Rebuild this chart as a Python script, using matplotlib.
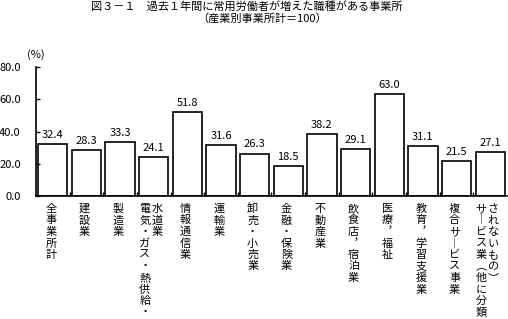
import numpy as np
import matplotlib
matplotlib.use('Agg')
import matplotlib.pyplot as plt
from matplotlib.transforms import blended_transform_factory

plt.rcParams['font.family'] = ['Noto Sans CJK JP', 'DejaVu Sans']

# data
labels = [
    ['全事業所計'],
    ['建設業'],
    ['製造業'],
    ['電気・ガス・熱供給・', '水道業'],
    ['情報通信業'],
    ['運輸業'],
    ['卸売・小売業'],
    ['金融・保険業'],
    ['不動産業'],
    ['飲食店︐宿泊業'],
    ['医療︐福祉'],
    ['教育︐学習支援業'],
    ['複合サ︱ビス事業'],
    ['サ︱ビス業︵他に分類', 'されないもの︶'],
]
values = [32.4, 28.3, 33.3, 24.1, 51.8, 31.6, 26.3, 18.5, 38.2, 29.1, 63.0, 31.1, 21.5, 27.1]
yticks = [0, 20, 40, 60, 80]

W, H = 508, 319
fig = plt.figure(figsize=(W/100, H/100), dpi=100, facecolor='white')
ax = fig.add_axes([36/W, 1-196/H, (507-36)/W, (196-67)/H])

x = np.arange(len(values))
ax.bar(x, values, width=0.87, color='white', edgecolor='black', linewidth=1.2)

ax.set_xlim(-0.5, len(values)-0.5)
ax.set_ylim(0, 80)
ax.spines['top'].set_visible(False)
ax.spines['right'].set_visible(False)
ax.spines['left'].set_linewidth(1.2)
ax.spines['bottom'].set_linewidth(1.2)

ax.set_yticks(yticks)
ax.set_yticklabels(['%.1f' % t for t in yticks], fontsize=8)
ax.tick_params(axis='y', direction='in', length=3, width=1, pad=11)
ax.set_xticks(x[:-1] + 0.5)
ax.set_xticklabels([])
ax.tick_params(axis='x', direction='in', length=3, width=1)

for i, v in enumerate(values):
    ax.annotate('%.1f' % v, (i, v), xytext=(0, 3), textcoords='offset points',
                ha='center', va='bottom', fontsize=8)

# vertical category labels, one character at a time
tr = blended_transform_factory(ax.transData, fig.transFigure)
px = 1/33.6
for i, cols in enumerate(labels):
    if len(cols) == 1:
        offs = [-2*px]
    else:
        offs = [-9*px, 3*px]
    for col, off in zip(cols, offs):
        for j, ch in enumerate(col):
            yp = 209 + 11.5*j
            fig.text(i + off, 1 - yp/H, ch, transform=tr, ha='center', va='center', fontsize=8)

ax.text(27/W, 1-55/H, '(%)', transform=fig.transFigure, ha='left', va='center', fontsize=8)

fig.text(247/W, 1-6/H, '図３－１　過去１年間に常用労働者が増えた職種がある事業所',
         ha='center', va='center', fontsize=8)
fig.text(262/W, 1-18/H, '（産業別事業所計＝100）', ha='center', va='center', fontsize=8)

fig.savefig('out.png', dpi=100, facecolor='white')
